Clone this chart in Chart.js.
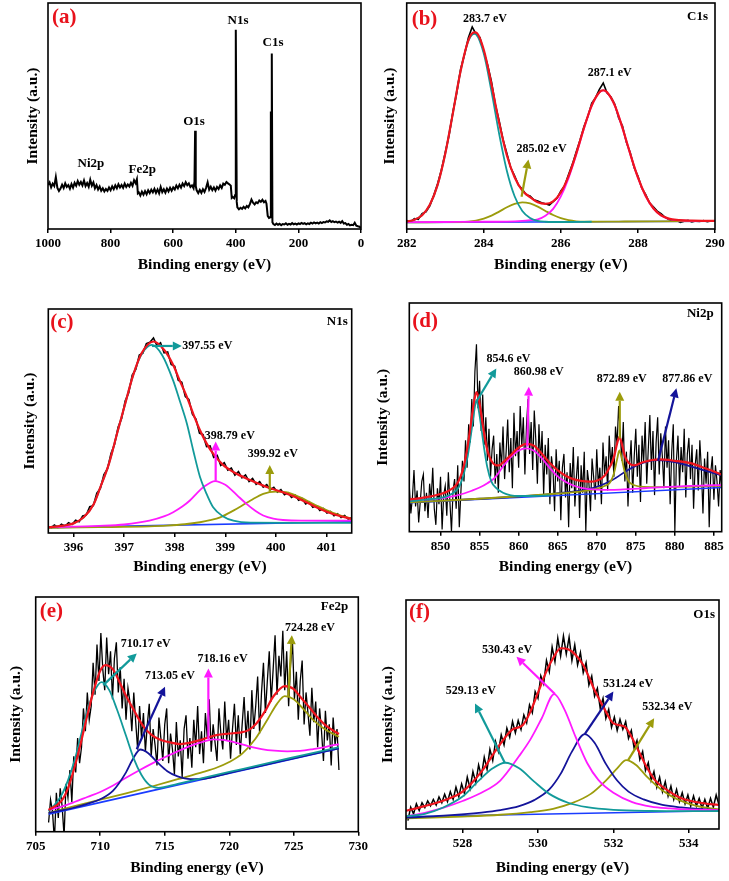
<!DOCTYPE html>
<html>
<head>
<meta charset="utf-8">
<script src="https://cdn.jsdelivr.net/npm/chart.js@4.4.0/dist/chart.umd.min.js"></script>
<style>
  html, body { margin: 0; padding: 0; background: #fff; }
  body { width: 729px; height: 881px; position: relative; overflow: hidden; }
</style>
</head>
<body>
<script>
// ---- data (energy in eV, intensity in % of the plot height) ----

// (a) survey
const survey = [
  [1000,19.5],[995,20.6],[990,18.4],[985,20.1],[980,19.0],[975,23.0],[970,18.2],[965,16.8],[960,17.9],[955,19.6],
  [950,18.1],[945,20.2],[940,18.6],[935,19.4],[930,17.8],[925,19.9],[920,18.3],[915,20.4],[910,19.1],[905,21.2],
  [900,19.6],[895,20.8],[890,19.3],[885,21.5],[880,19.0],[875,20.3],[870,18.7],[865,21.8],[860,19.2],[855,20.6],
  [850,18.0],[845,19.4],[840,17.5],[835,18.8],[830,16.9],[825,18.0],[820,16.6],[815,17.7],[810,16.9],[805,18.4],
  [800,17.2],[795,18.9],[790,17.6],[785,19.3],[780,18.0],[775,19.8],[770,18.4],[765,19.5],[760,18.2],[755,20.1],
  [750,18.6],[745,19.7],[740,18.8],[735,20.4],[730,19.1],[725,21.6],[720,20.3],[716,22.0],[713,15.8],[710,16.2],
  [705,14.8],[700,16.5],[695,15.2],[690,16.8],[685,15.4],[680,17.1],[675,15.9],[670,17.4],[665,16.2],[660,17.8],
  [655,16.0],[650,17.5],[645,15.8],[640,18.6],[635,16.3],[630,17.6],[625,16.1],[620,17.9],[615,16.6],[610,18.2],
  [605,16.9],[600,18.4],[595,17.5],[590,19.2],[585,18.0],[580,19.6],[575,18.3],[570,20.1],[565,19.0],[560,20.7],
  [555,19.4],[550,20.2],[545,18.6],[540,19.3],[535,18.0],[532,21.0],[530,43.5],[528,19.0],[525,17.1],[520,15.9],
  [515,17.3],[510,16.0],[505,17.6],[500,16.4],[495,18.2],[490,20.6],[485,17.4],[480,18.7],[475,17.2],[470,18.4],
  [465,17.0],[460,18.6],[455,17.7],[450,19.3],[445,18.2],[440,20.1],[435,19.6],[430,20.8],[425,20.2],[420,19.7],
  [416,19.2],[413,13.8],[410,14.2],[405,13.6],[402,15.0],[400,88.2],[397,12.0],[395,9.6],[390,8.7],[385,9.4],
  [380,8.9],[375,9.8],[370,9.1],[365,10.2],[360,9.6],[355,11.0],[350,13.0],[345,11.6],[340,10.9],[335,11.8],
  [330,11.4],[325,12.6],[320,12.0],[315,12.9],[310,11.8],[305,12.4],[302,11.2],[298,5.8],[294,4.9],[290,5.2],
  [288,52.0],[286.5,35.0],[285,77.7],[283,3.0],[280,2.2],[275,1.8],[270,2.4],[265,1.9],[260,2.3],[255,1.7],
  [250,2.2],[245,2.0],[240,2.5],[235,1.9],[230,2.3],[225,2.0],[220,2.6],[215,2.1],[210,2.4],[205,2.0],
  [200,2.5],[195,2.2],[190,2.7],[185,2.3],[180,2.6],[175,2.1],[170,2.5],[165,2.2],[160,2.8],[155,2.4],
  [150,2.9],[145,2.5],[140,2.8],[135,2.4],[130,3.0],[125,2.6],[120,3.1],[115,2.9],[110,3.4],[105,3.2],
  [100,3.8],[95,3.1],[90,3.5],[85,3.0],[80,3.3],[75,2.8],[70,3.2],[65,2.7],[60,3.5],[55,2.4],
  [50,2.6],[45,1.9],[40,2.2],[35,1.6],[30,1.9],[25,1.7],[20,2.8],[15,1.5],[10,1.2],[5,1.0],[0,0.4]
];
const surveyTicks = [1000, 800, 600, 400, 200, 0];

// (b) C1s
const c1sRawStart = 282.0, c1sRawStep = 0.1;
const c1sRaw = [3.8,3.2,4.6,4.3,6.8,7.6,10.2,14.8,19.9,26.1,
  33.8,41.5,51.9,60.4,70.8,77.2,84.6,89.4,86.2,84.8,
  78.4,72.6,65.2,55.1,47.8,39.6,33.4,27.1,23.5,19.4,
  17.6,15.2,14.6,12.9,12.4,11.6,11.2,10.6,12.1,13.6,
  16.8,19.2,24.1,28.7,34.2,39.5,45.3,49.8,55.6,58.1,
  61.8,64.6,60.2,58.4,55.2,49.1,45.6,38.4,33.9,27.2,
  23.4,18.1,15.3,11.6,9.8,7.9,6.8,5.3,4.2,3.6,
  3.9,2.9,3.4,3.8,3.1,3.5,3.3,3.7,3.2,3.6,3.4];
const c1sTeal = [[282.0,3.3],[282.2,4.1],[282.4,6.1],[282.6,10.7],[282.8,19.4],[283.0,33.3],[283.2,51.4],[283.4,70.0],[283.6,83.2],[283.75,86.4],[283.8,86.1],[284.0,77.6],[284.2,60.9],[284.4,42.0],[284.6,25.7],[284.8,14.5],[285.0,8.0],[285.2,4.9],[285.4,3.6],[285.6,3.2],[285.8,3.1],[286.2,3.1],[286.8,3.2]];
const c1sOlive = [[282.0,2.9],[283.0,3.0],[283.6,3.3],[283.8,3.75],[284.0,4.6],[284.2,5.9],[284.4,7.7],[284.6,9.6],[284.8,11.1],[285.0,11.8],[285.2,11.3],[285.4,9.9],[285.6,8.0],[285.8,6.2],[286.0,4.8],[286.2,3.9],[286.4,3.4],[286.6,3.2],[287.5,3.3],[288.5,3.4],[290.0,3.5]];
const c1sMagenta = [[282.0,3.0],[283.0,3.1],[284.0,3.2],[284.6,3.3],[285.0,3.6],[285.2,3.9],[285.4,4.3],[285.6,5.9],[285.8,8.9],[286.0,14.4],[286.2,22.5],[286.4,33.0],[286.6,44.5],[286.8,54.5],[287.0,60.4],[287.1,61.3],[287.2,60.4],[287.4,54.6],[287.6,44.6],[287.8,33.2],[288.0,22.7],[288.2,14.6],[288.4,9.1],[288.6,6.0],[288.8,4.5],[289.0,3.9],[289.4,3.6],[290.0,3.6]];
const c1sBase = [[282.0,2.9],[290.0,3.4]];
const c1sFit = [[282.0,3.3],[282.2,4.1],[282.4,6.1],[282.6,10.7],[282.8,19.4],[283.0,33.3],[283.2,51.4],[283.4,70.0],[283.6,83.5],[283.75,87.0],[283.8,86.9],[284.0,79.3],[284.2,63.9],[284.4,46.9],[284.6,32.5],[284.8,22.9],[285.0,17.0],[285.2,14.1],[285.4,11.8],[285.6,11.1],[285.8,12.2],[286.0,16.2],[286.2,23.4],[286.4,33.4],[286.6,44.7],[286.8,54.6],[287.0,60.5],[287.1,61.4],[287.2,60.5],[287.4,54.7],[287.6,44.7],[287.8,33.3],[288.0,22.8],[288.2,14.7],[288.4,9.2],[288.6,6.1],[288.8,4.6],[289.0,4.0],[289.4,3.7],[290.0,3.6]];
const c1sTicks = [282, 284, 286, 288, 290];

// (c) N1s
const n1sRawStart = 395.55, n1sRawStep = 0.07;
const n1sRaw = [2.2,3.6,2.5,3.9,3.0,4.6,3.8,5.7,5.0,7.6,
  8.0,11.8,12.2,17.8,19.9,26.1,28.6,35.5,39.6,47.2,
  51.1,58.9,62.6,70.5,73.0,79.4,80.3,84.6,85.2,87.1,
  83.6,84.9,80.4,80.8,75.2,74.4,68.2,67.3,60.9,59.6,
  53.0,50.8,44.6,43.9,38.6,38.9,33.8,34.6,30.2,31.4,
  28.1,29.0,25.8,27.4,24.6,25.9,23.0,24.3,21.7,22.9,
  20.5,21.6,19.3,20.4,18.2,19.4,17.1,18.0,15.9,16.9,
  14.6,15.4,13.0,13.9,11.5,12.2,10.1,10.9,8.9,9.6,
  7.7,8.6,6.9,7.8,6.2,6.9];
const n1sTeal = [[395.5,2.6],[395.8,3.3],[396.0,4.3],[396.2,7],[396.4,13],[396.53,20.5],[396.7,31],[396.86,44.4],[397.0,56],[397.18,70.6],[397.35,80],[397.55,84],[397.75,79.5],[397.97,68],[398.1,59],[398.24,48.9],[398.37,36.5],[398.5,25],[398.63,17.5],[398.76,11.5],[398.95,7.5],[399.16,5.5],[399.5,4.6],[400.5,4.5],[401.5,4.5]];
const n1sMagenta = [[395.5,2.6],[396.5,3.2],[397.0,3.8],[397.5,5.5],[397.8,7.5],[397.97,9.3],[398.15,11.8],[398.3,14.5],[398.45,18],[398.57,20.5],[398.8,23.2],[399.0,21.5],[399.1,19.7],[399.25,16.5],[399.42,13],[399.6,9.8],[399.75,7.8],[399.95,6.4],[400.14,5.8],[400.5,5.5],[401.5,5.5]];
const n1sOlive = [[395.5,2.3],[396.5,2.6],[397.5,3.0],[397.84,3.3],[398.2,3.9],[398.5,4.8],[398.7,5.7],[398.9,7],[399.16,10],[399.35,12.5],[399.5,14.5],[399.75,17.5],[400.0,18.5],[400.2,18.2],[400.47,16],[400.8,12.3],[401.13,9],[401.5,6.3]];
const n1sBase = [[395.5,2.4],[401.5,5.0]];
const n1sFit = [[395.5,2.5],[395.8,3.3],[396.0,4.3],[396.2,7],[396.4,13],[396.53,20.5],[396.7,31],[396.86,44.4],[397.0,56],[397.18,70.6],[397.35,80.5],[397.58,85.5],[397.8,81.5],[397.97,75],[398.1,68],[398.24,60.8],[398.37,53],[398.5,45.9],[398.63,40],[398.76,35.4],[398.95,30.5],[399.16,27.2],[399.5,23.5],[399.82,20.5],[400.14,18.2],[400.47,15.2],[400.8,11.5],[401.13,8.5],[401.5,6.3]];
const n1sTicks = [396, 397, 398, 399, 400, 401];

// (d) Ni2p
const ni2pRawStart = 846, ni2pRawStep = 0.2;
const ni2pRaw = [20,8,15,27,11, 18,4,13,22,25, 9,17,6,21,14, 28,10,3,19,12,
  24,1,16,20,7, 26,13,0,18,23, 10,29,2,17,31, 22,40,28,47,39,
  58,46,70,82,54, 66,44,60,38,50, 31,45,24,36,42, 21,34,17,39,28,
  46,23,35,49,26, 41,19,52,33,44, 28,55,37,50,25, 46,58,34,48,27,
  53,40,21,47,30, 44,16,38,25,41, 12,33,27,9,36, 22,31,5,28,34,
  15,26,2,30,19, 37,11,24,33,6, 29,17,35,0,27, 21,9,32,24,14,
  36,20,28,12,39, 25,33,18,42,29, 37,24,46,38,55, 44,31,48,22,35,
  11,29,40,17,33, 45,24,38,13,42, 30,48,21,36,51, 27,44,16,39,50,
  25,43,33,19,46, 28,40,12,35,47, 0,31,42,20,37, 26,45,15,34,41,
  23,38,10,29,36, 18,40,27,8,32, 21,35,2,26,33, 14,29,22,11,27,
  19];
const ni2pTeal = [[846,13.3],[848,14.0],[850,14.8],[851,15.8],[852,18.0],[852.5,20.5],[853,25.5],[853.5,33.5],[854,45],[854.3,52.5],[854.6,57.5],[854.9,53],[855.2,46],[855.6,36],[856,28],[856.5,22],[857,19.5],[858,17],[859,15.9],[860,15.6],[862,15.6],[864,15.9]];
const ni2pMagenta = [[846,13.5],[848,14.0],[850,14.6],[852,15.8],[853,16.7],[854,17.9],[855,19.3],[856,21.2],[857,23.8],[858,28.5],[859,32.6],[860,35.5],[861,36.4],[862,35.3],[863,32],[864,27.8],[865,24.2],[866,21.8],[867,20.2],[868,19.2],[870,18.4],[872,18.3],[874,18.6],[876,19],[878,19.4],[880,19.7],[882,20],[884,20.2],[886,20.4]];
const ni2pOlive = [[846,12.8],[850,13.5],[855,14.4],[860,15.5],[865,16.7],[868,17.6],[870,18.8],[871,20],[871.7,21.5],[872.2,25.5],[872.6,31.5],[872.9,35.5],[873.2,32],[873.6,26],[874.1,22],[874.8,20.3],[876,19.6],[878,19.5],[880,19.6],[883,19.8],[886,20.0]];
const ni2pNavy = [[846,12.8],[850,13.5],[855,14.4],[860,15.4],[864,16.4],[866,17.2],[868,18.0],[870,19.6],[872,22.6],[874,27],[876,30.2],[877.9,31.3],[880,30.4],[882,28.6],[884,26.6],[886,24.6]];
const ni2pBase = [[846,12.6],[886,19.3]];
const ni2pFit = [[846,14.1],[848,15.0],[850,16.5],[851,17.8],[852,20.5],[852.5,23.5],[853,29],[853.5,38],[854,50],[854.3,57],[854.6,61],[854.9,58],[855.2,51.5],[855.6,42.5],[856,35.5],[856.5,31],[857,29.2],[857.5,29],[858,30.3],[859,33.5],[860,36.8],[861,38.4],[862,37.5],[863,34],[864,30],[865,26.8],[866,24.5],[867,23],[868,22.2],[869,21.9],[870,22.3],[871,24.5],[871.7,28.5],[872.2,32.5],[872.6,38.5],[872.9,41.5],[873.2,38.5],[873.6,33],[874.1,30],[874.8,29],[876,30.5],[878,31.6],[880,31],[882,30],[884,27.6],[886,25]];
const ni2pTicks = [850, 855, 860, 865, 870, 875, 880, 885];

// (e) Fe2p
const fe2pRawStart = 706, fe2pRawStep = 0.15;
const fe2pRaw = [4,14,9,-4,17,6,19,11,-2,21,
  15,27,13,33,26,41,30,37,54,44,
  61,49,55,74,60,82,66,87,71,62,
  85,69,79,58,76,83,61,72,54,67,
  49,63,57,44,61,48,36,55,41,52,
  35,47,56,33,45,38,29,50,41,31,
  47,54,30,43,36,25,48,33,40,24,
  45,51,32,41,28,49,37,55,34,44,
  30,52,41,58,35,47,39,31,54,43,
  36,57,40,49,32,45,56,38,51,34,
  47,59,41,53,36,62,45,55,68,43,
  61,74,52,66,79,57,71,86,60,77,
  68,88,62,79,55,73,83,58,70,49,
  66,75,47,61,52,42,63,48,57,37,
  54,44,31,53,40,47,29,50,38,45,
  27];
const fe2pTeal = [[706,9],[706.5,12],[707,16],[707.5,22.5],[708,31],[708.5,42],[709,53],[709.5,61],[710.1,65.5],[710.7,62],[711.3,53.5],[712,42],[712.6,32],[713.2,24.8],[713.8,20.5],[714.5,19.2],[716,21],[718,23.6],[720,26.2],[722,28.7],[724,31.3],[726,33.9],[728.5,37]];
const fe2pNavy = [[706,8.2],[707,9.3],[708,10.6],[709,12.2],[710,14.2],[711,18],[712,26],[712.5,31.5],[713.1,36],[713.7,34.5],[714.5,30],[715.2,26.5],[716,24.2],[717,23],[718,23.2],[720,25.8],[722,28.3],[724,30.9],[726,33.4],[728.5,36.5]];
const fe2pMagenta = [[706,9.5],[707,11],[708,13],[709,15.2],[710,17.4],[711,20.2],[712,23.6],[713,26.8],[714,29.8],[715,32.6],[716,35.2],[717,37.6],[718,39.5],[718.8,40.4],[719.5,40.2],[720.5,39],[721.5,37.4],[722.5,36.2],[723.5,35.5],[724.5,35.2],[725.5,35.4],[726.5,36.2],[727.5,37.2],[728.5,38.4]];
const fe2pOlive = [[706,8.3],[708,11.2],[710,14.0],[712,16.8],[714,19.8],[716,23],[718,26.2],[719,28],[720,30.5],[721,34.2],[722,40.5],[723,49.5],[723.7,56],[724.3,59.4],[725,58],[725.7,54],[726.5,49],[727.5,44.5],[728.5,41.6]];
const fe2pBase = [[706,7.7],[728.5,36.5]];
const fe2pFit = [[706,9.5],[707,13.5],[707.5,19],[708,28],[708.5,39],[709,51],[709.5,62],[710,70.5],[710.4,73],[711,71],[711.5,65.5],[712,59.5],[712.6,53.3],[713.3,46.5],[714,42.3],[714.6,40.4],[715.5,39],[716.2,38.4],[717,39],[717.7,40.1],[719,42.3],[720,43],[720.8,43.4],[721.5,44.5],[722.1,47.4],[722.8,53],[723.4,59.1],[724.3,63.8],[725,62.5],[725.5,59.1],[726.2,54.5],[726.8,50.4],[727.6,46],[728.5,42.8]];
const fe2pTicks = [705, 710, 715, 720, 725, 730];

// (f) O1s
const o1sRawStart = 526.55, o1sRawStep = 0.075;
const o1sRaw = [2,8,5,9.5,6.5,10,7.8,10.8,8.6,11.5,
  9,12.6,10,13.8,10.5,15,11.5,17,12.8,18.5,
  14.2,21.5,16.5,24,19,27,22,30.5,25,34,
  29,37.5,33,40.5,36,43.5,39.5,46.5,41.5,47,
  43,49.5,46,54,50.5,60,57,67,63.5,74,
  69,80,73.5,84,76,85,77,84.5,74,81,
  72,77.5,68.5,73,63,67,58,61.5,52.5,57,
  48,52,44,48.5,42.5,47.5,43,46.5,39,42.5,
  34.5,38,29.5,33,24.5,28,20,24,17,21.5,
  15,19.5,13,17.5,11.5,16,10.5,14.5,9.5,13.5,
  8.5,13,8.5,12,7.5,11.5,7.5,12,8,13.5,9];
const o1sTeal = [[526.5,3.9],[527,5],[527.5,8],[528,12.8],[528.4,19.5],[528.8,25.5],[529.13,28],[529.5,25.5],[529.9,19.5],[530.3,14],[530.8,10],[531.3,8],[532,6.8],[533,6.3],[534,6.2],[534.8,6.3]];
const o1sMagenta = [[526.5,3.9],[527,5.5],[527.5,7.8],[528,10.8],[528.5,14.5],[529,20],[529.5,31],[529.8,38.5],[530.1,48],[530.43,58.9],[530.7,52],[531,39.5],[531.3,28],[531.6,20.3],[532,14.5],[532.5,10.3],[533,8.3],[533.5,7.5],[534,7],[534.8,6.7]];
const o1sNavy = [[526.5,3.3],[527.5,4.2],[528.5,5.6],[529,6.7],[529.5,8.5],[529.9,11.2],[530.3,16],[530.6,23],[530.9,33],[531.24,40.9],[531.5,37],[531.8,27.5],[532.1,20],[532.4,15],[532.8,11.5],[533.3,9],[533.8,7.9],[534.8,6.6]];
const o1sOlive = [[526.5,3.0],[528,3.8],[529,4.6],[529.8,5.8],[530.4,7.3],[530.9,9.8],[531.4,14],[531.8,20],[532.1,25.5],[532.34,29.2],[532.6,27],[532.9,21.5],[533.3,15.5],[533.7,11.5],[534.2,8.6],[534.8,7]];
const o1sBase = [[526.5,3.7],[534.8,6.4]];
const o1sFit = [[526.5,6.4],[527,8.5],[527.5,11],[528,15],[528.5,24],[528.9,34],[529.3,42.7],[529.6,45],[529.8,51],[530.0,59.5],[530.2,68.2],[530.4,75],[530.6,79.5],[530.8,79],[531.0,76.5],[531.2,72],[531.5,60.7],[531.8,51],[532.0,45.7],[532.3,44.2],[532.5,39],[532.7,32.2],[532.9,25.5],[533.1,20.2],[533.4,16],[533.8,12],[534.3,10],[534.8,9]];
const o1sTicks = [528, 530, 532, 534];

// ---- styling ----
const FONT = "'Liberation Serif', 'Times New Roman', serif";
const RED = '#f0141e', TEAL = '#129a9a', MAGENTA = '#ff1aff', OLIVE = '#9c9c0c', NAVY = '#14149a', BLUE = '#1a3cff';

const pairs = p => p.map(([e, v]) => ({ x: e, y: v }));
const channels = (start, step, vals) => vals.map((v, i) => ({ x: +(start + i * step).toFixed(3), y: v }));

function line(data, color, width, smooth) {
  return {
    data, borderColor: color, borderWidth: width, pointRadius: 0, fill: false,
    tension: 0, cubicInterpolationMode: smooth ? 'monotone' : 'default'
  };
}

function drawArrow(ctx, x1, y1, x2, y2, color) {
  const ang = Math.atan2(y2 - y1, x2 - x1);
  const head = 9, half = 4.5;
  const bx = x2 - head * Math.cos(ang), by = y2 - head * Math.sin(ang);
  ctx.strokeStyle = color;
  ctx.lineWidth = 2.2;
  ctx.beginPath(); ctx.moveTo(x1, y1); ctx.lineTo(bx, by); ctx.stroke();
  ctx.fillStyle = color;
  ctx.beginPath();
  ctx.moveTo(x2, y2);
  ctx.lineTo(bx + half * Math.sin(ang), by - half * Math.cos(ang));
  ctx.lineTo(bx - half * Math.sin(ang), by + half * Math.cos(ang));
  ctx.closePath(); ctx.fill();
}

const decorations = {
  id: 'decorations',
  afterDraw(chart, args, o) {
    const { ctx, chartArea: a, scales: { x, y } } = chart;
    ctx.save();
    ctx.strokeStyle = '#000';
    ctx.lineWidth = 1.6;
    ctx.strokeRect(a.left, a.top, a.right - a.left, a.bottom - a.top);

    ctx.textBaseline = 'middle';
    ctx.fillStyle = '#e8121c';
    ctx.font = `bold 21px ${FONT}`;
    ctx.textAlign = 'left';
    ctx.fillText(o.letter, a.left + o.letterAt[0], a.top + o.letterAt[1]);

    ctx.fillStyle = '#000';
    if (o.element) {
      ctx.font = `bold 13px ${FONT}`;
      ctx.textAlign = 'right';
      ctx.fillText(o.element, a.right - o.elementAt[0], a.top + o.elementAt[1]);
    }
    (o.notes || []).forEach(n => {
      if (n.arrow) {
        drawArrow(ctx, x.getPixelForValue(n.arrow[0]), y.getPixelForValue(n.arrow[1]),
          x.getPixelForValue(n.arrow[2]), y.getPixelForValue(n.arrow[3]), n.color);
      }
      ctx.fillStyle = '#000';
      ctx.font = `bold ${n.size || 12}px ${FONT}`;
      ctx.textAlign = n.align || 'center';
      ctx.fillText(n.text, x.getPixelForValue(n.x), y.getPixelForValue(n.y));
    });
    ctx.restore();
  }
};

function panel(p) {
  const [l, t, r, b] = p.area;
  const x0 = Math.round(p.yTitleX - 9.3);
  const y0 = Math.floor(t - 3);
  const w = Math.round(r + 16) - x0;
  const h = Math.round(p.xTitleY + 12) - y0;
  const yw = l - x0;
  const xh = p.xTitleY + 9.3 - b;
  const padTop = t - y0;
  const padRight = w - (r - x0);
  const padBottom = h - (b - y0) - xh;

  const canvas = document.createElement('canvas');
  canvas.width = w;
  canvas.height = h;
  canvas.style.cssText = `position:absolute;left:${x0}px;top:${y0}px;width:${w}px;height:${h}px`;
  document.body.appendChild(canvas);

  new Chart(canvas, {
    type: 'line',
    data: { datasets: p.datasets },
    options: {
      responsive: false,
      animation: false,
      devicePixelRatio: 1,
      layout: { padding: { left: 0, top: padTop, right: padRight, bottom: padBottom } },
      plugins: {
        legend: { display: false },
        tooltip: { enabled: false },
        decorations: p.deco
      },
      scales: {
        x: {
          type: 'linear',
          min: p.xMin, max: p.xMax, reverse: !!p.reverse,
          afterFit: s => { s.height = xh; },
          afterBuildTicks: s => { s.ticks = p.ticks.map(v => ({ value: v })); },
          grid: { display: true, drawOnChartArea: false, drawTicks: true, tickLength: 4, color: '#000', lineWidth: 1.5 },
          border: { display: false },
          ticks: {
            color: '#000', padding: 3, maxRotation: 0, autoSkip: false,
            font: { family: FONT, size: 13, weight: 'bold' },
            callback: v => String(v)
          },
          title: {
            display: true, text: 'Binding energy (eV)', color: '#000', padding: 0,
            font: { family: FONT, size: 15.5, weight: 'bold' }
          }
        },
        y: {
          min: p.yMin !== undefined ? p.yMin : 0,
          max: p.yMax !== undefined ? p.yMax : 100,
          afterFit: s => { s.width = yw; },
          grid: { display: false },
          border: { display: false },
          ticks: { display: false },
          title: {
            display: true, text: 'Intensity (a.u.)', color: '#000', padding: 0,
            font: { family: FONT, size: 15.5, weight: 'bold' }
          }
        }
      }
    },
    plugins: [decorations]
  });
}

// (a)
panel({
  area: [48, 3, 361, 229], yTitleX: 33, xTitleY: 265,
  xMin: 0, xMax: 1000, reverse: true, ticks: surveyTicks,
  datasets: [line(pairs(survey), '#000', 2, false)],
  deco: {
    letter: '(a)', letterAt: [4, 15],
    notes: [
      { text: 'Ni2p', x: 863, y: 28.8, size: 13 },
      { text: 'Fe2p', x: 699, y: 26.1, size: 13 },
      { text: 'O1s', x: 533.6, y: 47.5, size: 13 },
      { text: 'N1s', x: 393, y: 92.1, size: 13 },
      { text: 'C1s', x: 281, y: 82.5, size: 13 }
    ]
  }
});

// (b)
panel({
  area: [406.7, 3, 715, 229], yTitleX: 390, xTitleY: 265,
  xMin: 282, xMax: 290, ticks: c1sTicks,
  datasets: [
    line(pairs(c1sFit), RED, 2.2, true),
    line(pairs(c1sTeal), TEAL, 1.8, true),
    line(pairs(c1sMagenta), MAGENTA, 1.8, true),
    line(pairs(c1sOlive), OLIVE, 1.8, true),
    line(pairs(c1sBase), BLUE, 1.6, false),
    line(channels(c1sRawStart, c1sRawStep, c1sRaw), '#000', 1.6, false)
  ],
  deco: {
    letter: '(b)', letterAt: [5, 17], element: 'C1s', elementAt: [7, 14],
    notes: [
      { text: '283.7 eV', x: 284.03, y: 92.9 },
      { text: '287.1 eV', x: 287.27, y: 69.2 },
      { text: '285.02 eV', x: 285.5, y: 35.4, arrow: [284.98, 14.3, 285.16, 30.8], color: OLIVE }
    ]
  }
});

// (c)
panel({
  area: [48.3, 309, 351.7, 533], yTitleX: 30, xTitleY: 567,
  xMin: 395.5, xMax: 401.5, ticks: n1sTicks,
  datasets: [
    line(pairs(n1sFit), RED, 2.2, true),
    line(pairs(n1sTeal), TEAL, 1.8, true),
    line(pairs(n1sMagenta), MAGENTA, 1.8, true),
    line(pairs(n1sOlive), OLIVE, 1.8, true),
    line(pairs(n1sBase), BLUE, 1.6, false),
    line(channels(n1sRawStart, n1sRawStep, n1sRaw), '#000', 1.6, false)
  ],
  deco: {
    letter: '(c)', letterAt: [2, 14], element: 'N1s', elementAt: [4, 13],
    notes: [
      { text: '397.55 eV', x: 398.15, y: 83.6, align: 'left', arrow: [397.55, 83.5, 398.14, 83.5], color: TEAL },
      { text: '398.79 eV', x: 399.09, y: 43.3, arrow: [398.81, 23.3, 398.81, 40.8], color: MAGENTA },
      { text: '399.92 eV', x: 399.94, y: 35.3, arrow: [399.88, 18.4, 399.88, 30.4], color: OLIVE }
    ]
  }
});

// (d)
panel({
  area: [409.3, 303, 721.7, 531.7], yTitleX: 383, xTitleY: 567,
  xMin: 846, xMax: 886, ticks: ni2pTicks,
  datasets: [
    line(pairs(ni2pFit), RED, 2.2, true),
    line(pairs(ni2pTeal), TEAL, 1.8, true),
    line(pairs(ni2pMagenta), MAGENTA, 1.8, true),
    line(pairs(ni2pOlive), OLIVE, 1.8, true),
    line(pairs(ni2pNavy), NAVY, 1.8, true),
    line(pairs(ni2pBase), BLUE, 1.4, false),
    line(channels(ni2pRawStart, ni2pRawStep, ni2pRaw), '#000', 1.2, false)
  ],
  deco: {
    letter: '(d)', letterAt: [3, 19], element: 'Ni2p', elementAt: [8, 11],
    notes: [
      { text: '854.6 eV', x: 858.7, y: 75.5, arrow: [854.58, 56.8, 857.14, 71.4], color: TEAL },
      { text: '860.98 eV', x: 862.56, y: 69.8, arrow: [861.1, 37.2, 861.3, 63.4], color: MAGENTA },
      { text: '872.89 eV', x: 873.2, y: 66.8, arrow: [872.95, 40.8, 872.95, 61.2], color: OLIVE },
      { text: '877.86 eV', x: 881.6, y: 66.8, arrow: [877.86, 31, 880.2, 62.7], color: NAVY }
    ]
  }
});

// (e)
panel({
  area: [35.7, 597, 358.3, 831.7], yTitleX: 16.5, xTitleY: 868,
  xMin: 705, xMax: 730, ticks: fe2pTicks, yMax: 102.8,
  datasets: [
    line(pairs(fe2pFit), RED, 2.2, true),
    line(pairs(fe2pTeal), TEAL, 1.8, true),
    line(pairs(fe2pNavy), NAVY, 1.8, true),
    line(pairs(fe2pMagenta), MAGENTA, 1.8, true),
    line(pairs(fe2pOlive), OLIVE, 1.8, true),
    line(pairs(fe2pBase), BLUE, 1.6, false),
    line(channels(fe2pRawStart, fe2pRawStep, fe2pRaw), '#000', 1.3, false)
  ],
  deco: {
    letter: '(e)', letterAt: [4, 15], element: 'Fe2p', elementAt: [10, 10],
    notes: [
      { text: '710.17 eV', x: 713.53, y: 82.2, arrow: [710.24, 64.2, 712.83, 78.1], color: TEAL },
      { text: '713.05 eV', x: 715.41, y: 68.2, arrow: [712.83, 36.1, 715.02, 63.5], color: NAVY },
      { text: '718.16 eV', x: 719.48, y: 75.6, arrow: [718.38, 40.5, 718.38, 71.5], color: MAGENTA },
      { text: '724.28 eV', x: 726.26, y: 89.4, arrow: [724.58, 59.4, 724.85, 86.1], color: OLIVE }
    ]
  }
});

// (f)
panel({
  area: [406, 600, 719, 829], yTitleX: 388, xTitleY: 868,
  xMin: 526.5, xMax: 534.8, ticks: o1sTicks, yMin: -1.8, yMax: 101.2,
  datasets: [
    line(pairs(o1sFit), RED, 2.2, true),
    line(pairs(o1sTeal), TEAL, 1.8, true),
    line(pairs(o1sMagenta), MAGENTA, 1.8, true),
    line(pairs(o1sNavy), NAVY, 1.8, true),
    line(pairs(o1sOlive), OLIVE, 1.8, true),
    line(pairs(o1sBase), BLUE, 1.6, false),
    line(channels(o1sRawStart, o1sRawStep, o1sRaw), '#000', 1.5, false)
  ],
  deco: {
    letter: '(f)', letterAt: [3, 13], element: 'O1s', elementAt: [4, 15],
    notes: [
      { text: '529.13 eV', x: 528.22, y: 60.3, arrow: [529.12, 28, 528.33, 54.7], color: TEAL },
      { text: '530.43 eV', x: 529.18, y: 78.7, arrow: [530.45, 58.9, 529.43, 75.7], color: MAGENTA },
      { text: '531.24 eV', x: 532.39, y: 63.4, arrow: [531.24, 40.9, 532.0, 60], color: NAVY },
      { text: '532.34 eV', x: 533.43, y: 52.9, arrow: [532.39, 29.2, 533.08, 48], color: OLIVE }
    ]
  }
});
</script>
</body>
</html>
